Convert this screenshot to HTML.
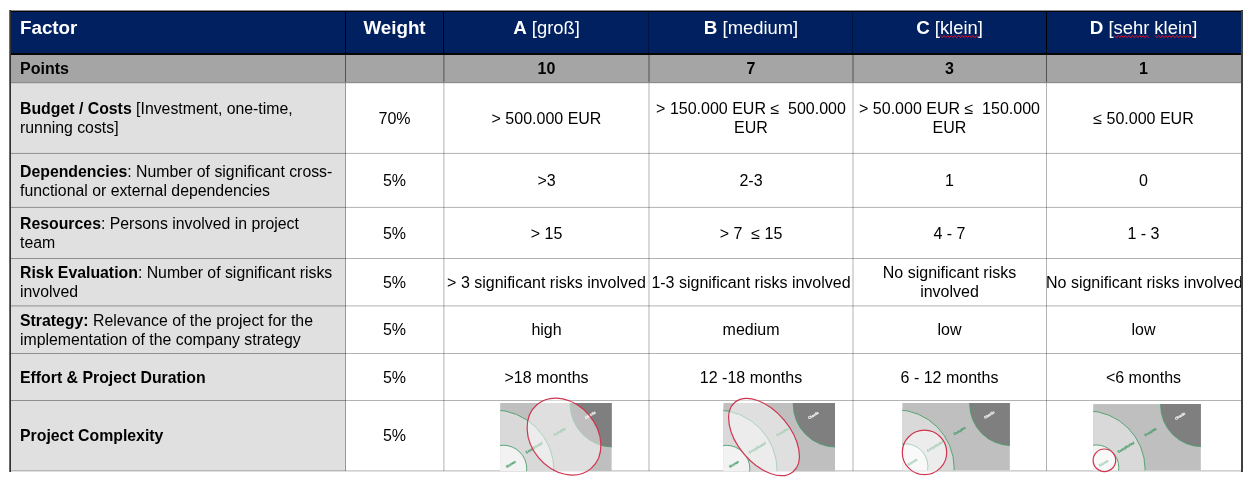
<!DOCTYPE html>
<html><head><meta charset="utf-8"><style>
html,body{margin:0;padding:0;}
body{width:1249px;height:484px;position:relative;overflow:hidden;background:#fff;font-family:"Liberation Sans",sans-serif;}
.t{will-change:transform;}
b{font-weight:bold;}
</style></head><body>
<div style="position:absolute;left:9px;top:10px;width:1234px;height:44px;background:#002060;"></div>
<div style="position:absolute;left:9px;top:54px;width:1234px;height:29px;background:#a5a5a5;"></div>
<div style="position:absolute;left:9px;top:83px;width:336px;height:388px;background:#e0e0e0;"></div>
<div style="position:absolute;left:9px;top:152px;width:336px;height:1px;background:rgba(0,0,0,0.036);"></div>
<div style="position:absolute;left:9px;top:153px;width:336px;height:1px;background:rgba(0,0,0,0.324);"></div>
<div style="position:absolute;left:345px;top:152px;width:896px;height:1px;background:rgba(0,0,0,0.030);"></div>
<div style="position:absolute;left:345px;top:153px;width:896px;height:1px;background:rgba(0,0,0,0.270);"></div>
<div style="position:absolute;left:9px;top:206px;width:336px;height:1px;background:rgba(0,0,0,0.036);"></div>
<div style="position:absolute;left:9px;top:207px;width:336px;height:1px;background:rgba(0,0,0,0.324);"></div>
<div style="position:absolute;left:345px;top:206px;width:896px;height:1px;background:rgba(0,0,0,0.030);"></div>
<div style="position:absolute;left:345px;top:207px;width:896px;height:1px;background:rgba(0,0,0,0.270);"></div>
<div style="position:absolute;left:9px;top:258px;width:336px;height:1px;background:rgba(0,0,0,0.360);"></div>
<div style="position:absolute;left:345px;top:258px;width:896px;height:1px;background:rgba(0,0,0,0.300);"></div>
<div style="position:absolute;left:9px;top:305px;width:336px;height:1px;background:rgba(0,0,0,0.216);"></div>
<div style="position:absolute;left:9px;top:306px;width:336px;height:1px;background:rgba(0,0,0,0.144);"></div>
<div style="position:absolute;left:345px;top:305px;width:896px;height:1px;background:rgba(0,0,0,0.180);"></div>
<div style="position:absolute;left:345px;top:306px;width:896px;height:1px;background:rgba(0,0,0,0.120);"></div>
<div style="position:absolute;left:9px;top:353px;width:336px;height:1px;background:rgba(0,0,0,0.360);"></div>
<div style="position:absolute;left:345px;top:353px;width:896px;height:1px;background:rgba(0,0,0,0.300);"></div>
<div style="position:absolute;left:9px;top:400px;width:336px;height:1px;background:rgba(0,0,0,0.360);"></div>
<div style="position:absolute;left:345px;top:400px;width:896px;height:1px;background:rgba(0,0,0,0.300);"></div>
<div style="position:absolute;left:9px;top:470px;width:1234px;height:1px;background:rgba(0,0,0,0.180);"></div>
<div style="position:absolute;left:9px;top:471px;width:1234px;height:1px;background:rgba(0,0,0,0.120);"></div>
<div style="position:absolute;left:9px;top:82px;width:1232px;height:1px;background:#8c8c8c;"></div>
<div style="position:absolute;left:9px;top:83px;width:1232px;height:1px;background:rgba(0,0,0,0.08);"></div>
<div style="position:absolute;left:345px;top:83px;width:1px;height:388px;background:rgba(0,0,0,0.400);"></div>
<div style="position:absolute;left:443px;top:83px;width:1px;height:388px;background:rgba(0,0,0,0.180);"></div>
<div style="position:absolute;left:444px;top:83px;width:1px;height:388px;background:rgba(0,0,0,0.120);"></div>
<div style="position:absolute;left:648px;top:83px;width:1px;height:388px;background:rgba(0,0,0,0.150);"></div>
<div style="position:absolute;left:649px;top:83px;width:1px;height:388px;background:rgba(0,0,0,0.150);"></div>
<div style="position:absolute;left:852px;top:83px;width:1px;height:388px;background:rgba(0,0,0,0.150);"></div>
<div style="position:absolute;left:853px;top:83px;width:1px;height:388px;background:rgba(0,0,0,0.150);"></div>
<div style="position:absolute;left:1046px;top:83px;width:1px;height:388px;background:rgba(0,0,0,0.300);"></div>
<div style="position:absolute;left:345px;top:55px;width:1px;height:27px;background:rgba(0,0,0,0.500);"></div>
<div style="position:absolute;left:443px;top:55px;width:1px;height:27px;background:rgba(0,0,0,0.300);"></div>
<div style="position:absolute;left:444px;top:55px;width:1px;height:27px;background:rgba(0,0,0,0.200);"></div>
<div style="position:absolute;left:648px;top:55px;width:1px;height:27px;background:rgba(0,0,0,0.250);"></div>
<div style="position:absolute;left:649px;top:55px;width:1px;height:27px;background:rgba(0,0,0,0.250);"></div>
<div style="position:absolute;left:852px;top:55px;width:1px;height:27px;background:rgba(0,0,0,0.250);"></div>
<div style="position:absolute;left:853px;top:55px;width:1px;height:27px;background:rgba(0,0,0,0.250);"></div>
<div style="position:absolute;left:1046px;top:55px;width:1px;height:27px;background:rgba(0,0,0,0.500);"></div>
<div style="position:absolute;left:345px;top:10px;width:1px;height:44px;background:#000;"></div>
<div style="position:absolute;left:443px;top:10px;width:1px;height:44px;background:#000;"></div>
<div style="position:absolute;left:648px;top:10px;width:1px;height:44px;background:#001440;"></div>
<div style="position:absolute;left:852px;top:10px;width:1px;height:44px;background:#001440;"></div>
<div style="position:absolute;left:1046px;top:10px;width:1px;height:44px;background:#000;"></div>
<div style="position:absolute;left:9px;top:53px;width:1234px;height:2px;background:#050505;"></div>
<div class="t" style="position:absolute;left:19.8px;width:325.2px;top:19.32px;font-size:18.4px;line-height:18.4px;text-align:left;color:#fff;white-space:nowrap;"><b style="font-size:18.8px">Factor</b></div>
<div class="t" style="position:absolute;left:345px;width:99px;top:19.32px;font-size:18.4px;line-height:18.4px;text-align:center;color:#fff;white-space:nowrap;"><b style="font-size:18.8px">Weight</b></div>
<div class="t" style="position:absolute;left:444px;width:205px;top:19.32px;font-size:18.4px;line-height:18.4px;text-align:center;color:#fff;white-space:nowrap;"><b style="font-size:18.8px">A</b> [groß]</div>
<div class="t" style="position:absolute;left:649px;width:204px;top:19.32px;font-size:18.4px;line-height:18.4px;text-align:center;color:#fff;white-space:nowrap;"><b style="font-size:18.8px">B</b> [medium]</div>
<div class="t" style="position:absolute;left:853px;width:193px;top:19.32px;font-size:18.4px;line-height:18.4px;text-align:center;color:#fff;white-space:nowrap;"><b style="font-size:18.8px">C</b> [klein]</div>
<div class="t" style="position:absolute;left:1046px;width:195px;top:19.32px;font-size:18.4px;line-height:18.4px;text-align:center;color:#fff;white-space:nowrap;"><b style="font-size:18.8px">D</b> [sehr klein]</div>
<div class="t" style="position:absolute;left:19.8px;width:325.2px;top:61.25px;font-size:16.0px;line-height:16.0px;text-align:left;color:#000;white-space:nowrap;"><b>Points</b></div>
<div class="t" style="position:absolute;left:444px;width:205px;top:61.25px;font-size:16.0px;line-height:16.0px;text-align:center;color:#000;white-space:nowrap;"><b>10</b></div>
<div class="t" style="position:absolute;left:649px;width:204px;top:61.25px;font-size:16.0px;line-height:16.0px;text-align:center;color:#000;white-space:nowrap;"><b>7</b></div>
<div class="t" style="position:absolute;left:853px;width:193px;top:61.25px;font-size:16.0px;line-height:16.0px;text-align:center;color:#000;white-space:nowrap;"><b>3</b></div>
<div class="t" style="position:absolute;left:1046px;width:195px;top:61.25px;font-size:16.0px;line-height:16.0px;text-align:center;color:#000;white-space:nowrap;"><b>1</b></div>
<div class="t" style="position:absolute;left:19.8px;width:325.2px;top:101.19px;font-size:15.84px;line-height:15.84px;text-align:left;color:#000;white-space:nowrap;"><b>Budget / Costs</b> [Investment, one-time,</div>
<div class="t" style="position:absolute;left:19.8px;width:325.2px;top:120.39px;font-size:15.84px;line-height:15.84px;text-align:left;color:#000;white-space:nowrap;">running costs]</div>
<div class="t" style="position:absolute;left:345px;width:99px;top:111.20px;font-size:16.0px;line-height:16.0px;text-align:center;color:#000;white-space:nowrap;">70%</div>
<div class="t" style="position:absolute;left:444px;width:205px;top:111.20px;font-size:16.0px;line-height:16.0px;text-align:center;color:#000;white-space:nowrap;">&gt; 500.000 EUR</div>
<div class="t" style="position:absolute;left:649px;width:204px;top:101.05px;font-size:16.0px;line-height:16.0px;text-align:center;color:#000;white-space:nowrap;">&gt; 150.000 EUR ≤&nbsp; 500.000</div>
<div class="t" style="position:absolute;left:649px;width:204px;top:120.25px;font-size:16.0px;line-height:16.0px;text-align:center;color:#000;white-space:nowrap;">EUR</div>
<div class="t" style="position:absolute;left:853px;width:193px;top:101.05px;font-size:16.0px;line-height:16.0px;text-align:center;color:#000;white-space:nowrap;">&gt; 50.000 EUR ≤&nbsp; 150.000</div>
<div class="t" style="position:absolute;left:853px;width:193px;top:120.25px;font-size:16.0px;line-height:16.0px;text-align:center;color:#000;white-space:nowrap;">EUR</div>
<div class="t" style="position:absolute;left:1046px;width:195px;top:111.20px;font-size:16.0px;line-height:16.0px;text-align:center;color:#000;white-space:nowrap;">≤ 50.000 EUR</div>
<div class="t" style="position:absolute;left:19.8px;width:325.2px;top:164.19px;font-size:15.84px;line-height:15.84px;text-align:left;color:#000;white-space:nowrap;"><b>Dependencies</b>: Number of significant cross-</div>
<div class="t" style="position:absolute;left:19.8px;width:325.2px;top:183.19px;font-size:15.84px;line-height:15.84px;text-align:left;color:#000;white-space:nowrap;">functional or external dependencies</div>
<div class="t" style="position:absolute;left:345px;width:99px;top:173.35px;font-size:16.0px;line-height:16.0px;text-align:center;color:#000;white-space:nowrap;">5%</div>
<div class="t" style="position:absolute;left:444px;width:205px;top:173.35px;font-size:16.0px;line-height:16.0px;text-align:center;color:#000;white-space:nowrap;">&gt;3</div>
<div class="t" style="position:absolute;left:649px;width:204px;top:173.35px;font-size:16.0px;line-height:16.0px;text-align:center;color:#000;white-space:nowrap;">2-3</div>
<div class="t" style="position:absolute;left:853px;width:193px;top:173.35px;font-size:16.0px;line-height:16.0px;text-align:center;color:#000;white-space:nowrap;">1</div>
<div class="t" style="position:absolute;left:1046px;width:195px;top:173.35px;font-size:16.0px;line-height:16.0px;text-align:center;color:#000;white-space:nowrap;">0</div>
<div class="t" style="position:absolute;left:19.8px;width:325.2px;top:216.29px;font-size:15.84px;line-height:15.84px;text-align:left;color:#000;white-space:nowrap;"><b>Resources</b>: Persons involved in project</div>
<div class="t" style="position:absolute;left:19.8px;width:325.2px;top:234.89px;font-size:15.84px;line-height:15.84px;text-align:left;color:#000;white-space:nowrap;">team</div>
<div class="t" style="position:absolute;left:345px;width:99px;top:226.05px;font-size:16.0px;line-height:16.0px;text-align:center;color:#000;white-space:nowrap;">5%</div>
<div class="t" style="position:absolute;left:444px;width:205px;top:226.05px;font-size:16.0px;line-height:16.0px;text-align:center;color:#000;white-space:nowrap;">&gt; 15</div>
<div class="t" style="position:absolute;left:649px;width:204px;top:226.05px;font-size:16.0px;line-height:16.0px;text-align:center;color:#000;white-space:nowrap;">&gt; 7&nbsp; ≤ 15</div>
<div class="t" style="position:absolute;left:853px;width:193px;top:226.05px;font-size:16.0px;line-height:16.0px;text-align:center;color:#000;white-space:nowrap;">4 - 7</div>
<div class="t" style="position:absolute;left:1046px;width:195px;top:226.05px;font-size:16.0px;line-height:16.0px;text-align:center;color:#000;white-space:nowrap;">1 - 3</div>
<div class="t" style="position:absolute;left:19.8px;width:325.2px;top:264.79px;font-size:15.84px;line-height:15.84px;text-align:left;color:#000;white-space:nowrap;"><b>Risk Evaluation</b>: Number of significant risks</div>
<div class="t" style="position:absolute;left:19.8px;width:325.2px;top:284.09px;font-size:15.84px;line-height:15.84px;text-align:left;color:#000;white-space:nowrap;">involved</div>
<div class="t" style="position:absolute;left:345px;width:99px;top:274.95px;font-size:16.0px;line-height:16.0px;text-align:center;color:#000;white-space:nowrap;">5%</div>
<div class="t" style="position:absolute;left:444px;width:205px;top:274.95px;font-size:16.0px;line-height:16.0px;text-align:center;color:#000;white-space:nowrap;">&gt; 3 significant risks involved</div>
<div class="t" style="position:absolute;left:649px;width:204px;top:274.95px;font-size:16.0px;line-height:16.0px;text-align:center;color:#000;white-space:nowrap;">1-3 significant risks involved</div>
<div class="t" style="position:absolute;left:853px;width:193px;top:264.65px;font-size:16.0px;line-height:16.0px;text-align:center;color:#000;white-space:nowrap;">No significant risks</div>
<div class="t" style="position:absolute;left:853px;width:193px;top:283.95px;font-size:16.0px;line-height:16.0px;text-align:center;color:#000;white-space:nowrap;">involved</div>
<div class="t" style="position:absolute;left:1046px;width:195px;top:274.95px;font-size:16.0px;line-height:16.0px;text-align:center;color:#000;white-space:nowrap;">No significant risks involved</div>
<div class="t" style="position:absolute;left:19.8px;width:325.2px;top:312.89px;font-size:15.84px;line-height:15.84px;text-align:left;color:#000;white-space:nowrap;"><b>Strategy:</b> Relevance of the project for the</div>
<div class="t" style="position:absolute;left:19.8px;width:325.2px;top:332.09px;font-size:15.84px;line-height:15.84px;text-align:left;color:#000;white-space:nowrap;">implementation of the company strategy</div>
<div class="t" style="position:absolute;left:345px;width:99px;top:322.35px;font-size:16.0px;line-height:16.0px;text-align:center;color:#000;white-space:nowrap;">5%</div>
<div class="t" style="position:absolute;left:444px;width:205px;top:322.35px;font-size:16.0px;line-height:16.0px;text-align:center;color:#000;white-space:nowrap;">high</div>
<div class="t" style="position:absolute;left:649px;width:204px;top:322.35px;font-size:16.0px;line-height:16.0px;text-align:center;color:#000;white-space:nowrap;">medium</div>
<div class="t" style="position:absolute;left:853px;width:193px;top:322.35px;font-size:16.0px;line-height:16.0px;text-align:center;color:#000;white-space:nowrap;">low</div>
<div class="t" style="position:absolute;left:1046px;width:195px;top:322.35px;font-size:16.0px;line-height:16.0px;text-align:center;color:#000;white-space:nowrap;">low</div>
<div class="t" style="position:absolute;left:19.8px;width:325.2px;top:369.99px;font-size:15.84px;line-height:15.84px;text-align:left;color:#000;white-space:nowrap;"><b>Effort &amp; Project Duration</b></div>
<div class="t" style="position:absolute;left:345px;width:99px;top:369.85px;font-size:16.0px;line-height:16.0px;text-align:center;color:#000;white-space:nowrap;">5%</div>
<div class="t" style="position:absolute;left:444px;width:205px;top:369.85px;font-size:16.0px;line-height:16.0px;text-align:center;color:#000;white-space:nowrap;">&gt;18 months</div>
<div class="t" style="position:absolute;left:649px;width:204px;top:369.85px;font-size:16.0px;line-height:16.0px;text-align:center;color:#000;white-space:nowrap;">12 -18 months</div>
<div class="t" style="position:absolute;left:853px;width:193px;top:369.85px;font-size:16.0px;line-height:16.0px;text-align:center;color:#000;white-space:nowrap;">6 - 12 months</div>
<div class="t" style="position:absolute;left:1046px;width:195px;top:369.85px;font-size:16.0px;line-height:16.0px;text-align:center;color:#000;white-space:nowrap;">&lt;6 months</div>
<div class="t" style="position:absolute;left:19.8px;width:325.2px;top:427.89px;font-size:15.84px;line-height:15.84px;text-align:left;color:#000;white-space:nowrap;"><b>Project Complexity</b></div>
<div class="t" style="position:absolute;left:345px;width:99px;top:427.75px;font-size:16.0px;line-height:16.0px;text-align:center;color:#000;white-space:nowrap;">5%</div>
<svg class="t" style="position:absolute;left:0;top:0" width="1249" height="484" viewBox="0 0 1249 484"><clipPath id="cp0"><rect x="0" y="0" width="111.7" height="68.3"/></clipPath><g transform="translate(500.1,402.9)"><g clip-path="url(#cp0)"><rect x="0" y="0" width="111.7" height="68.3" fill="#bfbfbf"/><circle cx="-6.740499999999999" cy="67.6124" r="60.6645" fill="#d9d9d9" stroke="#4a9e6b" stroke-width="0.9"/><circle cx="3.1109999999999998" cy="65.84949999999999" r="23.539899999999996" fill="#f2f2f2" stroke="#4a9e6b" stroke-width="0.9"/><circle cx="112.8256" cy="1.2444" r="42.82809999999999" fill="#7f7f7f" stroke="#4a9e6b" stroke-width="0.9"/><g transform="translate(10.784799999999999,61.18299999999999) rotate(-31)"><text x="0" y="1.25" text-anchor="middle" font-family="Liberation Sans" font-weight="bold" font-size="3.63" textLength="10.78" lengthAdjust="spacingAndGlyphs" fill="#4a9e6b" stroke="#4a9e6b" stroke-width="0.22">Known</text></g><g transform="translate(34.0136,44.6947) rotate(-31)"><text x="0" y="1.25" text-anchor="middle" font-family="Liberation Sans" font-weight="bold" font-size="3.63" textLength="19.39" lengthAdjust="spacingAndGlyphs" fill="#4a9e6b" stroke="#4a9e6b" stroke-width="0.22">Complicated</text></g><g transform="translate(59.42009999999999,28.828599999999998) rotate(-31)"><text x="0" y="1.25" text-anchor="middle" font-family="Liberation Sans" font-weight="bold" font-size="3.63" textLength="13.90" lengthAdjust="spacingAndGlyphs" fill="#4a9e6b" stroke="#4a9e6b" stroke-width="0.22">Complex</text></g><g transform="translate(90.219,12.2366) rotate(-31)"><text x="0" y="1.25" text-anchor="middle" font-family="Liberation Sans" font-weight="bold" font-size="3.63" textLength="11.72" lengthAdjust="spacingAndGlyphs" fill="#f4f4f4" stroke="#f4f4f4" stroke-width="0.22">Chaotic</text></g></g></g><ellipse cx="564" cy="436.6" rx="41.8" ry="33" transform="rotate(50 564 436.6)" fill="rgba(255,255,255,0.5)" stroke="#d0354f" stroke-width="1.2"/><clipPath id="cp1"><rect x="0" y="0" width="111.8" height="68.5"/></clipPath><g transform="translate(723.2,403.0)"><g clip-path="url(#cp1)"><rect x="0" y="0" width="111.8" height="68.5" fill="#bfbfbf"/><circle cx="-6.740499999999999" cy="67.6124" r="60.6645" fill="#d9d9d9" stroke="#4a9e6b" stroke-width="0.9"/><circle cx="3.1109999999999998" cy="65.84949999999999" r="23.539899999999996" fill="#f2f2f2" stroke="#4a9e6b" stroke-width="0.9"/><circle cx="112.8256" cy="1.2444" r="42.82809999999999" fill="#7f7f7f" stroke="#4a9e6b" stroke-width="0.9"/><g transform="translate(10.784799999999999,61.18299999999999) rotate(-31)"><text x="0" y="1.25" text-anchor="middle" font-family="Liberation Sans" font-weight="bold" font-size="3.63" textLength="10.78" lengthAdjust="spacingAndGlyphs" fill="#4a9e6b" stroke="#4a9e6b" stroke-width="0.22">Known</text></g><g transform="translate(34.0136,44.6947) rotate(-31)"><text x="0" y="1.25" text-anchor="middle" font-family="Liberation Sans" font-weight="bold" font-size="3.63" textLength="19.39" lengthAdjust="spacingAndGlyphs" fill="#4a9e6b" stroke="#4a9e6b" stroke-width="0.22">Complicated</text></g><g transform="translate(59.42009999999999,28.828599999999998) rotate(-31)"><text x="0" y="1.25" text-anchor="middle" font-family="Liberation Sans" font-weight="bold" font-size="3.63" textLength="13.90" lengthAdjust="spacingAndGlyphs" fill="#4a9e6b" stroke="#4a9e6b" stroke-width="0.22">Complex</text></g><g transform="translate(90.219,12.2366) rotate(-31)"><text x="0" y="1.25" text-anchor="middle" font-family="Liberation Sans" font-weight="bold" font-size="3.63" textLength="11.72" lengthAdjust="spacingAndGlyphs" fill="#f4f4f4" stroke="#f4f4f4" stroke-width="0.22">Chaotic</text></g></g></g><ellipse cx="764" cy="437" rx="45.3" ry="26.3" transform="rotate(50 764 437)" fill="rgba(255,255,255,0.5)" stroke="#d0354f" stroke-width="1.2"/><clipPath id="cp2"><rect x="0" y="0" width="107.7" height="67.2"/></clipPath><g transform="translate(902.2,403.0)"><g clip-path="url(#cp2)"><rect x="0" y="0" width="107.7" height="67.2" fill="#bfbfbf"/><circle cx="-6.5" cy="65.2" r="58.5" fill="#d9d9d9" stroke="#4a9e6b" stroke-width="0.9"/><circle cx="3.0" cy="63.5" r="22.7" fill="#f2f2f2" stroke="#4a9e6b" stroke-width="0.9"/><circle cx="108.8" cy="1.2" r="41.3" fill="#7f7f7f" stroke="#4a9e6b" stroke-width="0.9"/><g transform="translate(10.4,59.0) rotate(-31)"><text x="0" y="1.25" text-anchor="middle" font-family="Liberation Sans" font-weight="bold" font-size="3.50" textLength="10.40" lengthAdjust="spacingAndGlyphs" fill="#4a9e6b" stroke="#4a9e6b" stroke-width="0.22">Known</text></g><g transform="translate(32.8,43.1) rotate(-31)"><text x="0" y="1.25" text-anchor="middle" font-family="Liberation Sans" font-weight="bold" font-size="3.50" textLength="18.70" lengthAdjust="spacingAndGlyphs" fill="#4a9e6b" stroke="#4a9e6b" stroke-width="0.22">Complicated</text></g><g transform="translate(57.3,27.8) rotate(-31)"><text x="0" y="1.25" text-anchor="middle" font-family="Liberation Sans" font-weight="bold" font-size="3.50" textLength="13.40" lengthAdjust="spacingAndGlyphs" fill="#4a9e6b" stroke="#4a9e6b" stroke-width="0.22">Complex</text></g><g transform="translate(87.0,11.8) rotate(-31)"><text x="0" y="1.25" text-anchor="middle" font-family="Liberation Sans" font-weight="bold" font-size="3.50" textLength="11.30" lengthAdjust="spacingAndGlyphs" fill="#f4f4f4" stroke="#f4f4f4" stroke-width="0.22">Chaotic</text></g></g></g><circle cx="924.5" cy="452.4" r="22.2" fill="rgba(255,255,255,0.5)" stroke="#d0354f" stroke-width="1.2"/><clipPath id="cp3"><rect x="0" y="0" width="107.8" height="66.5"/></clipPath><g transform="translate(1093.1,404.1)"><g clip-path="url(#cp3)"><rect x="0" y="0" width="107.8" height="66.5" fill="#bfbfbf"/><circle cx="-6.5" cy="65.2" r="58.5" fill="#d9d9d9" stroke="#4a9e6b" stroke-width="0.9"/><circle cx="3.0" cy="63.5" r="22.7" fill="#f2f2f2" stroke="#4a9e6b" stroke-width="0.9"/><circle cx="108.8" cy="1.2" r="41.3" fill="#7f7f7f" stroke="#4a9e6b" stroke-width="0.9"/><g transform="translate(10.4,59.0) rotate(-31)"><text x="0" y="1.25" text-anchor="middle" font-family="Liberation Sans" font-weight="bold" font-size="3.50" textLength="10.40" lengthAdjust="spacingAndGlyphs" fill="#4a9e6b" stroke="#4a9e6b" stroke-width="0.22">Known</text></g><g transform="translate(32.8,43.1) rotate(-31)"><text x="0" y="1.25" text-anchor="middle" font-family="Liberation Sans" font-weight="bold" font-size="3.50" textLength="18.70" lengthAdjust="spacingAndGlyphs" fill="#4a9e6b" stroke="#4a9e6b" stroke-width="0.22">Complicated</text></g><g transform="translate(57.3,27.8) rotate(-31)"><text x="0" y="1.25" text-anchor="middle" font-family="Liberation Sans" font-weight="bold" font-size="3.50" textLength="13.40" lengthAdjust="spacingAndGlyphs" fill="#4a9e6b" stroke="#4a9e6b" stroke-width="0.22">Complex</text></g><g transform="translate(87.0,11.8) rotate(-31)"><text x="0" y="1.25" text-anchor="middle" font-family="Liberation Sans" font-weight="bold" font-size="3.50" textLength="11.30" lengthAdjust="spacingAndGlyphs" fill="#f4f4f4" stroke="#f4f4f4" stroke-width="0.22">Chaotic</text></g></g></g><circle cx="1104.4" cy="460.3" r="11.3" fill="rgba(255,255,255,0.5)" stroke="#d0354f" stroke-width="1.2"/></svg>
<svg class="t" style="position:absolute;left:0;top:0" width="1249" height="60"><polyline points="940.5,35.5 942.3,37.7 944.1,35.5 945.9,37.7 947.7,35.5 949.5,37.7 951.3,35.5 953.1,37.7 954.9,35.5 956.7,37.7 958.5,35.5 960.3,37.7 962.1,35.5 963.9,37.7 965.7,35.5 967.5,37.7 969.3,35.5 971.1,37.7 972.9,35.5 974.7,37.7 976.5,35.5 978.3,37.7" fill="none" stroke="#e0102a" stroke-width="1"/><polyline points="1114.5,35.5 1116.3,37.7 1118.1,35.5 1119.9,37.7 1121.7,35.5 1123.5,37.7 1125.3,35.5 1127.1,37.7 1128.9,35.5 1130.7,37.7 1132.5,35.5 1134.3,37.7 1136.1,35.5 1137.9,37.7 1139.7,35.5 1141.5,37.7 1143.3,35.5 1145.1,37.7 1146.9,35.5 1148.7,37.7" fill="none" stroke="#e0102a" stroke-width="1"/><polyline points="1155.0,35.5 1156.8,37.7 1158.6,35.5 1160.4,37.7 1162.2,35.5 1164.0,37.7 1165.8,35.5 1167.6,37.7 1169.4,35.5 1171.2,37.7 1173.0,35.5 1174.8,37.7 1176.6,35.5 1178.4,37.7 1180.2,35.5 1182.0,37.7 1183.8,35.5 1185.6,37.7 1187.4,35.5 1189.2,37.7 1191.0,35.5 1192.8,37.7" fill="none" stroke="#e0102a" stroke-width="1"/></svg>
<div style="position:absolute;left:9px;top:10px;width:1234px;height:1px;background:#8a8a8a;"></div>
<div style="position:absolute;left:9px;top:11px;width:1234px;height:1px;background:#000;"></div>
<div style="position:absolute;left:9px;top:10px;width:1px;height:462px;background:#6a6a6a;"></div>
<div style="position:absolute;left:10px;top:10px;width:1px;height:462px;background:#333;"></div>
<div style="position:absolute;left:1241px;top:10px;width:2px;height:462px;background:#404040;"></div>
</body></html>
